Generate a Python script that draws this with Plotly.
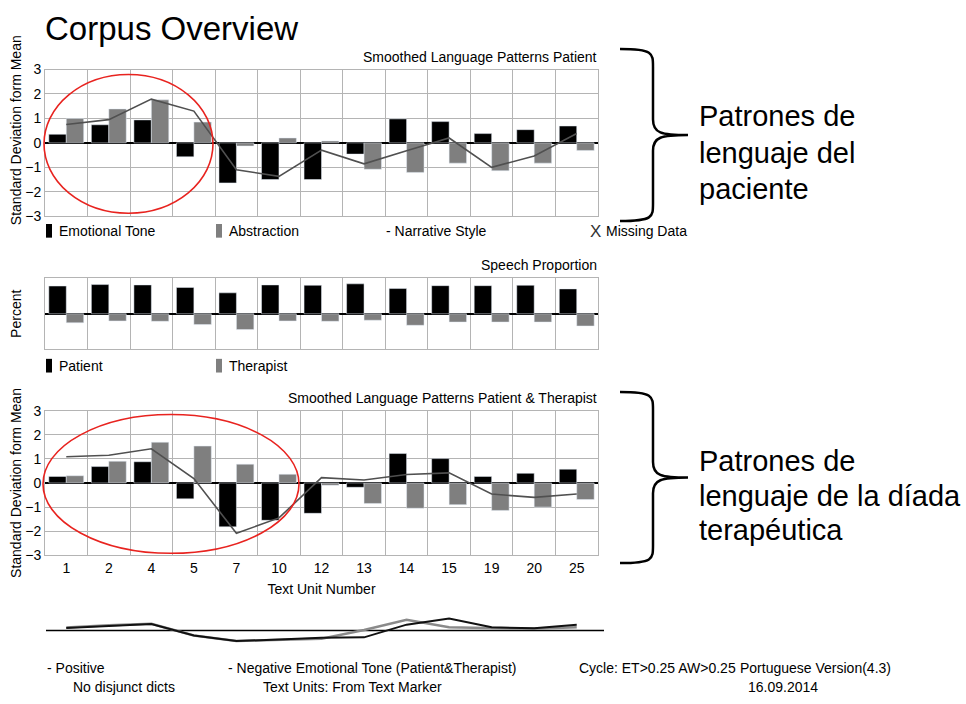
import plotly.graph_objects as go

W, H = 966, 704

# ---------------- data ----------------
text_units = ["1", "2", "4", "5", "7", "10", "12", "13", "14", "15", "19", "20", "25"]

# Smoothed Language Patterns Patient
pat_emotional_tone = [0.35, 0.74, 0.94, -0.57, -1.64, -1.5, -1.5, -0.46, 0.98, 0.87, 0.38, 0.54, 0.69]
pat_abstraction = [1.0, 1.39, 1.76, 0.85, -0.13, 0.2, 0.08, -1.08, -1.21, -0.83, -1.14, -0.83, -0.31]
pat_narrative = [0.75, 0.95, 1.79, 1.3, -1.1, -1.37, -0.3, -0.86, -0.32, 0.2, -1.0, -0.54, 0.38]

# Speech Proportion (percent)
speech_patient = [77, 81, 80, 73, 58, 80, 79, 83, 70, 78, 78, 79, 69]
speech_therapist = [-25, -20, -21, -30, -44, -20, -21, -18, -32, -23, -23, -23, -34]

# Smoothed Language Patterns Patient & Therapist
dyad_emotional_tone = [0.27, 0.68, 0.88, -0.66, -1.82, -1.55, -1.26, -0.18, 1.22, 1.01, 0.27, 0.4, 0.57]
dyad_abstraction = [0.3, 0.9, 1.69, 1.53, 0.78, 0.36, -0.1, -0.85, -1.05, -0.9, -1.14, -1.0, -0.69]
dyad_narrative = [1.09, 1.15, 1.42, 0.18, -2.09, -1.45, 0.22, 0.12, 0.35, 0.42, -0.46, -0.6, -0.46]

# Emotional tone (Patient & Therapist)
tone_positive = [0.27, 0.5, 0.67, -0.5, -1.07, -0.93, -0.75, -0.7, 0.6, 1.23, 0.33, 0.23, 0.6]
tone_negative = [0.3, 0.55, 0.7, -0.5, -1.07, -0.93, -0.85, 0.05, 1.1, 0.33, 0.23, 0.17, 0.33]

sd_ticks = [-3, -2, -1, 0, 1, 2, 3]

# ---------------- helpers ----------------
def px(x):
    return x / W


def py(y):
    return 1 - y / H


BLACK = "#000000"
GRAY = "#7f7f7f"
LINE = "#505050"
GRID = "#b4b4b4"
FONT = "Liberation Sans, Arial, sans-serif"

fig = go.Figure()

# top chart
fig.add_trace(go.Bar(x=text_units, y=pat_emotional_tone, marker_color=BLACK, xaxis="x", yaxis="y"))
fig.add_trace(go.Bar(x=text_units, y=pat_abstraction, marker_color=GRAY, xaxis="x", yaxis="y"))
fig.add_trace(go.Scatter(x=text_units, y=pat_narrative, mode="lines", line=dict(color=LINE, width=1.6),
                         xaxis="x", yaxis="y"))
# middle chart
fig.add_trace(go.Bar(x=text_units, y=speech_patient, marker_color=BLACK, xaxis="x2", yaxis="y2"))
fig.add_trace(go.Bar(x=text_units, y=speech_therapist, marker_color=GRAY, xaxis="x2", yaxis="y2"))
# bottom chart
fig.add_trace(go.Bar(x=text_units, y=dyad_emotional_tone, marker_color=BLACK, xaxis="x3", yaxis="y3"))
fig.add_trace(go.Bar(x=text_units, y=dyad_abstraction, marker_color=GRAY, xaxis="x3", yaxis="y3"))
fig.add_trace(go.Scatter(x=text_units, y=dyad_narrative, mode="lines", line=dict(color=LINE, width=1.6),
                         xaxis="x3", yaxis="y3"))
# tone lines
fig.add_trace(go.Scatter(x=text_units, y=tone_negative, mode="lines", line=dict(color="#8a8a8a", width=2.5),
                         xaxis="x4", yaxis="y4"))
fig.add_trace(go.Scatter(x=text_units, y=tone_positive, mode="lines", line=dict(color="#111111", width=2),
                         xaxis="x4", yaxis="y4"))

xdom = [px(45), px(598)]
xbase = dict(type="category", categoryorder="array", categoryarray=text_units, range=[-0.5, 12.5],
             domain=xdom, showgrid=True, gridcolor=GRID, gridwidth=1, tickson="boundaries",
             showline=True, mirror=True, linecolor=GRID, linewidth=1, ticks="", showticklabels=False,
             zeroline=False, fixedrange=True)
ybase = dict(range=[-3, 3], tickvals=sd_ticks, showgrid=True, gridcolor=GRID, gridwidth=1,
             zeroline=True, zerolinecolor=BLACK, zerolinewidth=2, showline=True, mirror=True,
             linecolor=GRID, linewidth=1, ticks="", tickfont=dict(size=14, color=BLACK))

fig.update_layout(
    width=W, height=H, margin=dict(l=0, r=0, t=0, b=0),
    paper_bgcolor="white", plot_bgcolor="white",
    font=dict(family=FONT, color=BLACK, size=14),
    showlegend=False, barmode="group", bargap=0.18, bargroupgap=0.0,
    xaxis=dict(xbase, anchor="y"),
    yaxis=dict(ybase, domain=[py(213), py(63)], anchor="x"),
    xaxis2=dict(xbase, anchor="y2"),
    yaxis2=dict(range=[-98, 100], domain=[py(349), py(276)], anchor="x2", showgrid=False,
                zeroline=True, zerolinecolor=BLACK, zerolinewidth=2, showline=True, mirror=True,
                linecolor=GRID, linewidth=1, ticks="", showticklabels=False),
    xaxis3=dict(xbase, anchor="y3", showticklabels=True, tickfont=dict(size=14, color=BLACK),
                title=dict(text="Text Unit Number", font=dict(size=14, color=BLACK), standoff=9)),
    yaxis3=dict(ybase, domain=[py(560), py(412)], anchor="x3"),
    xaxis4=dict(type="category", categoryorder="array", categoryarray=text_units, range=[-0.5, 12.5],
                domain=xdom, anchor="y4", visible=False),
    yaxis4=dict(range=[-1.5, 1.5], domain=[py(652), py(622)], anchor="x4", visible=False),
)

shapes = []
# baseline of the tone chart
shapes.append(dict(type="line", xref="paper", yref="y4", x0=px(46), x1=px(604), y0=0, y1=0,
                   line=dict(color=BLACK, width=1.5), layer="below"))
# red ellipses
shapes.append(dict(type="circle", xref="paper", yref="paper", x0=px(44), x1=px(213), y0=py(210), y1=py(68),
                   line=dict(color="#e8231f", width=1.6)))
shapes.append(dict(type="circle", xref="paper", yref="paper", x0=px(43), x1=px(299), y0=py(558), y1=py(416),
                   line=dict(color="#e8231f", width=1.6)))


def brace(top, bottom, xl=620, xm=653, xt=688):
    mid = (top + bottom) / 2
    pts = (f"M {px(xl)},{py(top)} C {px(xm)},{py(top)} {px(xm)},{py(top + 4)} {px(xm)},{py(top + 18)} "
           f"L {px(xm)},{py(mid - 16)} C {px(xm)},{py(mid - 2)} {px(xm + 8)},{py(mid)} {px(xt)},{py(mid)} "
           f"C {px(xm + 8)},{py(mid)} {px(xm)},{py(mid + 2)} {px(xm)},{py(mid + 16)} "
           f"L {px(xm)},{py(bottom - 18)} C {px(xm)},{py(bottom - 4)} {px(xm)},{py(bottom)} {px(xl)},{py(bottom)}")
    return dict(type="path", xref="paper", yref="paper", path=pts, line=dict(color=BLACK, width=2.5))


shapes.append(brace(42, 218))
shapes.append(brace(393, 568))


def swatch(x, y, color):
    return dict(type="rect", xref="paper", yref="paper", x0=px(x), x1=px(x + 6), y0=py(y + 7), y1=py(y - 7),
                fillcolor=color, line=dict(width=0))


shapes += [swatch(46, 228, BLACK), swatch(216, 228, GRAY), swatch(46, 366, BLACK), swatch(216, 366, GRAY)]
fig.update_layout(shapes=shapes)

ann = []


def text(t, x, y, size=14, xanchor="left", color=BLACK, angle=0):
    ann.append(dict(text=t, x=px(x), y=py(y), xref="paper", yref="paper", xanchor=xanchor, yanchor="middle",
                    showarrow=False, textangle=angle, font=dict(size=size, color=color, family=FONT)))


text("Corpus Overview", 43, 21, size=33)
text("Standard Deviation form Mean", 16, 125, xanchor="center", angle=-90)
text("Percent", 16, 313, xanchor="center", angle=-90)
text("Standard Deviation form Mean", 16, 486, xanchor="center", angle=-90)
text("Smoothed Language Patterns Patient", 599, 50, xanchor="right")
text("Emotional Tone", 57, 228)
text("Abstraction", 227, 228)
text("- Narrative Style", 384, 228)
text("X", 588, 229, size=17, color="#333333")
text("Missing Data", 604, 228)
text("Speech Proportion", 599, 263, xanchor="right")
text("Patient", 57, 366)
text("Therapist", 227, 366)
text("Smoothed Language Patterns Patient &amp; Therapist", 599, 399, xanchor="right")
text("- Positive", 45, 675)
text("- Negative Emotional Tone (Patient&amp;Therapist)", 226, 675)
text("Cycle: ET&gt;0.25 AW&gt;0.25", 577, 675)
text("Portuguese Version(4.3)", 893, 675, xanchor="right")
text("No disjunct dicts", 71, 695)
text("Text Units: From Text Marker", 261, 695)
text("16.09.2014", 783, 695, xanchor="center")

for t, y in [("Patrones de", 111), ("lenguaje del", 148), ("paciente", 185),
             ("Patrones de", 464), ("lenguaje de la díada", 499), ("terapéutica", 534)]:
    text(t, 697, y, size=29)

fig.update_layout(annotations=ann)
fig.write_html("out.html", config={"displayModeBar": False},
               post_script="document.body.style.margin='0';document.body.style.overflow='hidden';")
